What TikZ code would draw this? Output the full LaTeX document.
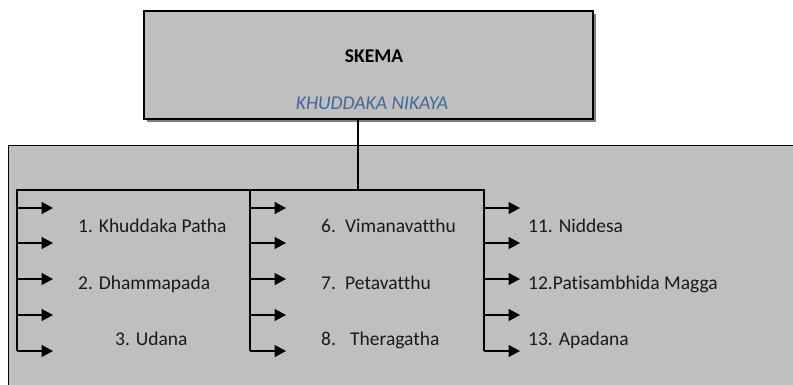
\documentclass[tikz,border=0pt]{standalone}
\usepackage{fontspec}
\setmainfont{Carlito}[Ligatures=NoCommon]
\usetikzlibrary{arrows.meta,shadows}
\definecolor{boxgray}{HTML}{BFBFBF}
\definecolor{shadowgray}{HTML}{7F7F7F}
\definecolor{subblue}{HTML}{41699A}
\definecolor{txt}{HTML}{1A1A1A}
\begin{document}
\begin{tikzpicture}[x=1pt,y=-1pt,
  panelbox/.style={draw=black, fill=boxgray, line width=1pt, anchor=north west, inner sep=0pt},
  titlebox/.style={draw=black, fill=boxgray, line width=1.6pt, anchor=north west, inner sep=0pt,
    minimum width=449pt, minimum height=108pt,
    drop shadow={shadow xshift=3.5pt, shadow yshift=-3.5pt, opacity=1, fill=shadowgray}},
  conn/.style={draw=black, line width=1.5pt},
  arr/.style={draw=black, line width=1.5pt, -{Triangle[length=11.5pt,width=12pt]}},
  lbl/.style={font=\fontsize{19.5}{23}\selectfont, text=txt, anchor=base west, inner sep=0pt},
]
\useasboundingbox (0,0) rectangle (793,384);
\begin{scope}
\clip (0,0) rectangle (793,384);
\node[panelbox, minimum width=800pt, minimum height=260pt] (panel) at (8,145) {};
\end{scope}
\node[titlebox] (skema) at (143,10) {};
\node[font=\bfseries\fontsize{19.5}{23}\selectfont, text=black, anchor=base, inner sep=0pt] (title) at (374,62) {SKEMA};
\node[font=\itshape\fontsize{19.5}{23}\selectfont, text=subblue, anchor=base, inner sep=0pt] (sub) at (372,109) {KHUDDAKA NIKAYA};

% bracket
\coordinate (stem) at (358,190);
\coordinate (bl) at (17,190);
\coordinate (bm) at (250,190);
\coordinate (br) at (484,190);
\coordinate (blb) at (17,351);
\coordinate (bmb) at (250,351);
\coordinate (brb) at (484,351);
\draw[conn] (skema.south -| stem) -- (stem);
\draw[conn] (blb) -- (bl) -- (br) -- (brb);
\draw[conn] (bm) -- (bmb);

\foreach \c/\x in {L/17, M/250, R/484}{
  \foreach \i/\y in {1/208, 2/243, 3/279, 4/315, 5/351}{
    \coordinate (\c s\i) at (\x,\y);
    \coordinate (\c t\i) at (\x+36,\y);
    \draw[arr] (\c s\i) -- (\c t\i);
  }
}

% labels
\node[lbl] (t1) at (78,232) {1. Khuddaka Patha};
\node[lbl] (t2) at (78,289) {2. Dhammapada};
\node[lbl] (t3) at (115,345) {3. Udana};
\node[lbl] (t6) at (321,232) {\makebox[24pt][l]{6.}Vimanavatthu};
\node[lbl] (t7) at (321,289) {\makebox[24pt][l]{7.}Petavatthu};
\node[lbl] (t8) at (321,345) {\makebox[29pt][l]{8.}Theragatha};
\node[lbl] (t11) at (528,232) {11. Niddesa};
\node[lbl] (t12) at (528,289) {12.Patisambhida Magga};
\node[lbl] (t13) at (528,345) {13. Apadana};
\end{tikzpicture}
\end{document}
